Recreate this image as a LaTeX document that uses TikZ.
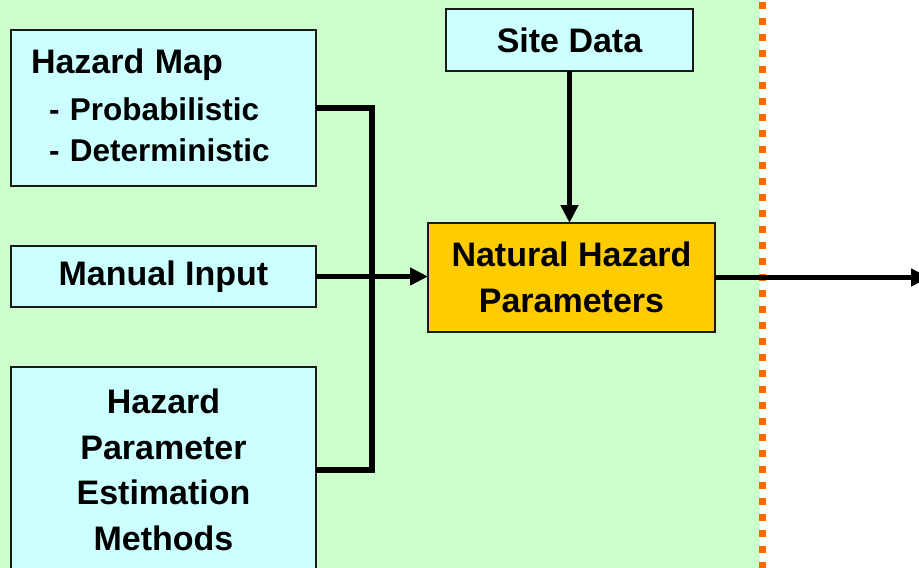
\documentclass[tikz,border=0pt]{standalone}
\usepackage{fontspec}
\setmainfont{Liberation Sans}
\usetikzlibrary{arrows.meta}
\definecolor{bggreen}{HTML}{CCFFCC}
\definecolor{boxcyan}{HTML}{CCFFFF}
\definecolor{boxgold}{HTML}{FFCC00}
\definecolor{dotorange}{HTML}{FF6600}
\definecolor{edge}{HTML}{1A1A1A}
\begin{document}
\begin{tikzpicture}[x=1pt,y=-1pt,
  box/.style={draw=edge, line width=2pt, inner sep=0pt, outer sep=0pt,
    font=\fontsize{34}{45.5}\selectfont\bfseries, align=center},
  bus/.style={line width=5.5pt, draw=black},
  arr/.style={line width=5.5pt, draw=black, -{Triangle[length=18pt,width=17pt]}}]
\useasboundingbox (0,0) rectangle (919,568);
\clip (0,0) rectangle (919,568);
\fill[bggreen] (0,0) rectangle (760,568);
\draw[dotorange, line width=7pt, dash pattern=on 7pt off 9pt] (762.5,2) -- (762.5,575);

\node[box, fill=boxcyan, minimum width=305pt, minimum height=156pt,
  text width=265pt, inner xsep=20pt, align=left,
  font=\fontsize{31.5}{41.7}\selectfont\bfseries] (hm) at (163.5,108)
  {{\fontsize{34}{41.7}\selectfont Hazard Map}\\[5pt]\hspace*{18pt}- Probabilistic\\\hspace*{18pt}- Deterministic\rule[-5.6pt]{0pt}{5.6pt}};
\node[box, fill=boxcyan, minimum width=305pt, minimum height=61pt] (mi) at (163.5,276.5) {Manual Input};
\node[box, fill=boxcyan, minimum width=305pt, minimum height=206pt] (hep) at (163.5,470)
  {Hazard\\Parameter\\Estimation\\Methods};
\node[box, fill=boxcyan, minimum width=247pt, minimum height=62pt] (sd) at (569.5,40) {Site Data};
\node[box, fill=boxgold, minimum width=287pt, minimum height=109pt] (nhp) at (571.5,277.5)
  {Natural Hazard\\Parameters};

\coordinate (j) at (372,108);
\coordinate (out) at (929,277.5);
\draw[bus] (hm.east) -- (j) |- (hep.east);
\draw[arr] (mi.east) -- (mi.east -| nhp.west);
\draw[arr] (sd.south) -- (sd.south |- nhp.north);
\draw[arr] (nhp.east) -- (out);
\end{tikzpicture}
\end{document}
